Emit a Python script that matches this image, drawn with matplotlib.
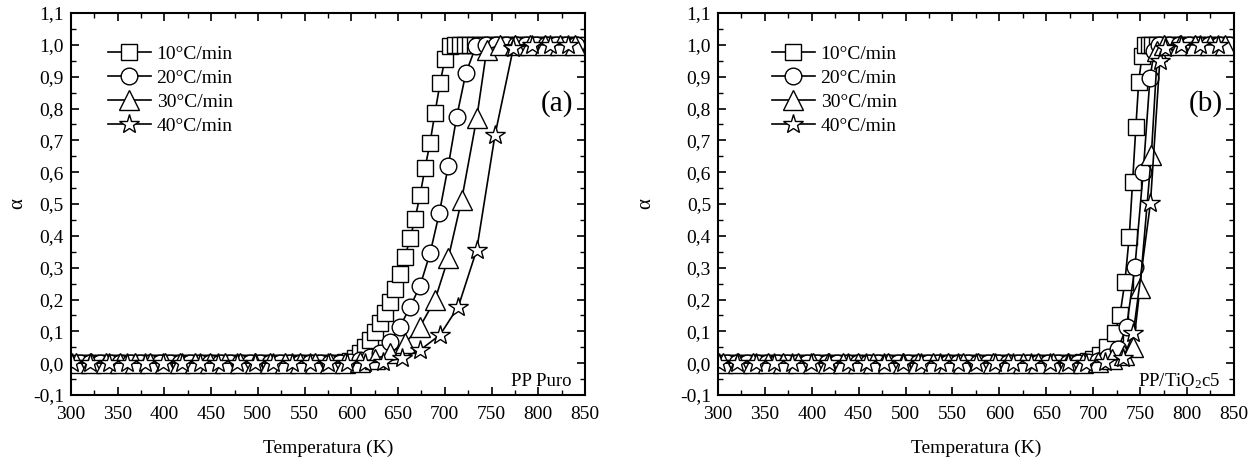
import matplotlib
matplotlib.use("Agg")
import matplotlib.pyplot as plt
from matplotlib.ticker import MultipleLocator, FuncFormatter

plt.rcParams['font.family'] = ['Liberation Serif', 'DejaVu Serif']
plt.rcParams['mathtext.fontset'] = 'custom'
plt.rcParams['mathtext.rm'] = 'Liberation Serif'
plt.rcParams['mathtext.it'] = 'Liberation Serif:italic'
plt.rcParams['font.size'] = 14

labels = ['10°C/min', '20°C/min', '30°C/min', '40°C/min']
markers = ['s', 'o', '^', '*']
msizes = [11, 12, 14, 15]

# ---------------- Panel (a): PP Puro  (T in K, alpha) ----------------
a_10 = [(304.3, 0), (309.7, 0), (315.0, 0), (320.4, 0), (325.7, 0), (331.1, 0), (336.4, 0),
        (341.8, 0), (347.1, 0), (352.5, 0), (357.8, 0), (363.2, 0), (368.5, 0), (373.9, 0),
        (379.2, 0), (384.6, 0), (389.9, 0), (395.3, 0), (400.6, 0), (406.0, 0), (411.3, 0),
        (416.7, 0), (422.0, 0), (427.4, 0), (432.7, 0), (438.1, 0), (443.4, 0), (448.8, 0),
        (454.1, 0), (459.5, 0), (464.8, 0), (470.2, 0), (475.5, 0), (480.9, 0), (486.2, 0),
        (491.6, 0), (496.9, 0), (502.3, 0), (507.6, 0), (513.0, 0), (518.3, 0), (523.7, 0),
        (529.0, 0), (534.4, 0), (539.7, 0), (545.1, 0), (550.4, 0), (555.8, 0), (561.1, 0),
        (566.5, 0), (571.8, 0), (577.2, 0), (582.5, 0.001), (587.9, 0.002), (593.2, 0.004),
        (598.6, 0.008), (603.9, 0.016), (609.3, 0.031), (614.6, 0.052), (620.0, 0.073),
        (625.3, 0.099), (630.7, 0.125), (636.0, 0.157), (641.4, 0.193), (646.7, 0.232),
        (652.1, 0.279), (657.4, 0.333), (662.8, 0.392), (668.1, 0.453), (673.5, 0.528),
        (678.8, 0.612), (684.2, 0.693), (689.5, 0.787), (694.9, 0.879), (700.2, 0.957),
        (705.6, 0.997), (710.9, 1), (716.3, 1), (721.6, 1), (727.0, 1), (732.3, 1), (737.7, 1),
        (743.0, 1), (748.4, 1), (753.7, 1), (759.1, 1), (764.4, 1), (769.8, 1), (775.1, 1),
        (780.5, 1), (785.8, 1), (791.2, 1), (796.5, 1), (801.9, 1), (807.2, 1), (812.6, 1),
        (817.9, 1), (823.3, 1), (828.6, 1), (834.0, 1), (839.3, 1), (844.7, 1)]

a_20 = [(309.7, 0), (320.4, 0), (331.1, 0), (341.8, 0), (352.5, 0), (363.2, 0), (373.9, 0),
        (384.6, 0), (395.3, 0), (406.0, 0), (416.7, 0), (427.4, 0), (438.1, 0), (448.8, 0),
        (459.5, 0), (470.2, 0), (480.9, 0), (491.6, 0), (502.3, 0), (513.0, 0), (523.7, 0),
        (534.4, 0), (545.1, 0), (555.8, 0), (566.5, 0), (577.2, 0), (587.9, 0.001),
        (598.6, 0.004), (609.3, 0.010), (620.0, 0.018), (630.7, 0.031), (641.4, 0.068),
        (652.1, 0.115), (662.8, 0.176), (673.5, 0.243), (684.2, 0.345), (694.1, 0.471),
        (703.7, 0.620), (712.7, 0.774), (722.5, 0.911), (733.2, 0.995), (743.9, 1),
        (754.6, 1), (765.3, 1), (776.0, 1), (786.7, 1), (797.4, 1), (808.1, 1), (818.8, 1),
        (829.5, 1), (840.2, 1)]

a_30 = [(305, 0), (321, 0), (337, 0), (353, 0), (369, 0), (385, 0), (401, 0), (417, 0),
        (433, 0), (449, 0), (465, 0), (481, 0), (497, 0), (513, 0), (529, 0), (545, 0),
        (561, 0), (577, 0), (593, 0.001), (609, 0.004), (625, 0.012), (641.4, 0.031),
        (657.4, 0.063), (673.5, 0.115), (689.5, 0.199), (703.7, 0.330), (718.0, 0.513),
        (734.1, 0.769), (744.8, 0.984), (759, 1), (775, 1), (791, 1), (807, 1), (823, 1),
        (839, 1)]

a_40 = [(301, 0), (320.6, 0), (340.2, 0), (359.8, 0), (379.4, 0), (399.0, 0), (418.6, 0),
        (438.2, 0), (457.8, 0), (477.4, 0), (497.0, 0), (516.6, 0), (536.2, 0), (555.8, 0),
        (575.4, 0), (595.0, 0), (614.6, 0.001), (634.2, 0.004), (653.9, 0.015),
        (673.5, 0.041), (694.9, 0.089), (714.5, 0.178), (734.1, 0.356), (753.7, 0.717),
        (773.3, 0.990), (792.9, 1), (812.5, 1), (832.1, 1)]

# ---------------- Panel (b): PP/TiO2c5 ----------------
b_10 = [(304.3, 0), (309.7, 0), (315.0, 0), (320.4, 0), (325.7, 0), (331.1, 0), (336.4, 0),
        (341.8, 0), (347.1, 0), (352.5, 0), (357.8, 0), (363.2, 0), (368.5, 0), (373.9, 0),
        (379.2, 0), (384.6, 0), (389.9, 0), (395.3, 0), (400.6, 0), (406.0, 0), (411.3, 0),
        (416.7, 0), (422.0, 0), (427.4, 0), (432.7, 0), (438.1, 0), (443.4, 0), (448.8, 0),
        (454.1, 0), (459.5, 0), (464.8, 0), (470.2, 0), (475.5, 0), (480.9, 0), (486.2, 0),
        (491.6, 0), (496.9, 0), (502.3, 0), (507.6, 0), (513.0, 0), (518.3, 0), (523.7, 0),
        (529.0, 0), (534.4, 0), (539.7, 0), (545.1, 0), (550.4, 0), (555.8, 0), (561.1, 0),
        (566.5, 0), (571.8, 0), (577.2, 0), (582.5, 0), (587.9, 0), (593.2, 0), (598.6, 0),
        (603.9, 0), (609.3, 0), (614.6, 0), (620.0, 0), (625.3, 0), (630.7, 0), (636.0, 0),
        (641.4, 0), (646.7, 0), (652.1, 0), (657.4, 0), (662.8, 0), (668.1, 0), (673.5, 0),
        (678.8, 0), (684.2, 0.001), (689.5, 0.003), (694.9, 0.006), (700.2, 0.012),
        (707.2, 0.026), (714.3, 0.052), (723.2, 0.094), (728.5, 0.151), (733.8, 0.256),
        (738.4, 0.397), (742.0, 0.570), (745.5, 0.743), (748.5, 0.884), (752.0, 0.965),
        (755.5, 1), (759.0, 1), (762.5, 1), (767.9, 1), (773.2, 1), (778.6, 1), (783.9, 1),
        (789.3, 1), (794.6, 1), (800.0, 1), (805.3, 1), (810.7, 1), (816.0, 1), (821.4, 1),
        (826.7, 1), (832.1, 1), (837.4, 1), (842.8, 1), (848.1, 1)]

b_20 = [(309.7, 0), (320.4, 0), (331.1, 0), (341.8, 0), (352.5, 0), (363.2, 0), (373.9, 0),
        (384.6, 0), (395.3, 0), (406.0, 0), (416.7, 0), (427.4, 0), (438.1, 0), (448.8, 0),
        (459.5, 0), (470.2, 0), (480.9, 0), (491.6, 0), (502.3, 0), (513.0, 0), (523.7, 0),
        (534.4, 0), (545.1, 0), (555.8, 0), (566.5, 0), (577.2, 0), (587.9, 0), (598.6, 0),
        (609.3, 0), (620.0, 0), (630.7, 0), (641.4, 0), (652.1, 0), (662.8, 0), (673.5, 0),
        (684.2, 0), (694.9, 0.003), (705.6, 0.008), (716.3, 0.020), (726.5, 0.045),
        (735.6, 0.115), (744.5, 0.303), (753.3, 0.600), (760.5, 0.895), (765.0, 0.980),
        (770.0, 1), (780.7, 1), (791.4, 1), (802.1, 1), (812.8, 1), (823.5, 1), (834.2, 1),
        (844.9, 1)]

b_30 = [(305, 0), (321, 0), (337, 0), (353, 0), (369, 0), (385, 0), (401, 0), (417, 0),
        (433, 0), (449, 0), (465, 0), (481, 0), (497, 0), (513, 0), (529, 0), (545, 0),
        (561, 0), (577, 0), (593, 0), (609, 0), (625, 0), (641, 0), (657, 0), (673, 0),
        (689, 0.002), (705, 0.005), (720, 0.012), (733, 0.025), (742.7, 0.052),
        (749.8, 0.235), (762.0, 0.655), (768.5, 0.980), (776, 1), (792, 1), (808, 1),
        (824, 1), (840, 1)]

b_40 = [(301, 0), (320.6, 0), (340.2, 0), (359.8, 0), (379.4, 0), (399.0, 0), (418.6, 0),
        (438.2, 0), (457.8, 0), (477.4, 0), (497.0, 0), (516.6, 0), (536.2, 0), (555.8, 0),
        (575.4, 0), (595.0, 0), (614.6, 0), (634.2, 0), (653.8, 0), (673.4, 0),
        (692.6, 0.001), (712.2, 0.004), (732.0, 0.015), (742.7, 0.094), (761.0, 0.502),
        (771.0, 0.950), (777.0, 0.990), (794.0, 1), (813.6, 1), (833.2, 1)]

panels = [
    dict(series=[a_10, a_20, a_30, a_40], tag='(a)', name='PP Puro'),
    dict(series=[b_10, b_20, b_30, b_40], tag='(b)', name='PP/TiO$_\\mathregular{2}$c5'),
]

fig = plt.figure(figsize=(12.6, 4.65), dpi=100)
rects = [[0.0563, 0.1505, 0.408, 0.8215], [0.5698, 0.1505, 0.4095, 0.8215]]
legend_x = [0.072, 0.1047]
ylabel_pad = [4, 18]

fmt = FuncFormatter(lambda v, p: ('%.1f' % v).replace('.', ','))

for i, (pan, rect) in enumerate(zip(panels, rects)):
    ax = fig.add_axes(rect)
    for data, lab, m, ms in zip(pan['series'], labels, markers, msizes):
        T = [p[0] for p in data]
        A = [p[1] for p in data]
        ax.plot(T, A, color='black', lw=1.2, marker=m, ms=ms,
                mfc='white', mec='black', mew=1.0, label=lab)
    ax.set_xlim(300, 850)
    ax.set_ylim(-0.1, 1.1)
    ax.xaxis.set_major_locator(MultipleLocator(50))
    ax.xaxis.set_minor_locator(MultipleLocator(25))
    ax.yaxis.set_major_locator(MultipleLocator(0.1))
    ax.yaxis.set_minor_locator(MultipleLocator(0.05))
    ax.yaxis.set_major_formatter(fmt)
    ax.tick_params(which='both', direction='in', top=True, right=True, labelsize=14)
    ax.tick_params(which='major', length=6, width=1.2)
    ax.tick_params(which='minor', length=3.5, width=1.0)
    ax.tick_params(axis='x', which='major', pad=8)
    ax.tick_params(axis='y', which='major', pad=5)
    for s in ax.spines.values():
        s.set_linewidth(1.5)
    ax.set_xlabel('Temperatura (K)', fontsize=14, labelpad=12)
    ax.set_ylabel('α', fontsize=15, labelpad=ylabel_pad[i])
    ax.text(820, 0.816, pan['tag'], fontsize=21, ha='center', va='center')
    ax.text(836, -0.057, pan['name'], fontsize=13.5, ha='right', va='center')
    ax.legend(loc='upper left', bbox_to_anchor=(legend_x[i], 0.9147), frameon=False,
              fontsize=14, handlelength=2.2, handletextpad=0.3, labelspacing=0.33,
              borderaxespad=0.0, borderpad=0.0)

fig.savefig('out.png', dpi=100)
